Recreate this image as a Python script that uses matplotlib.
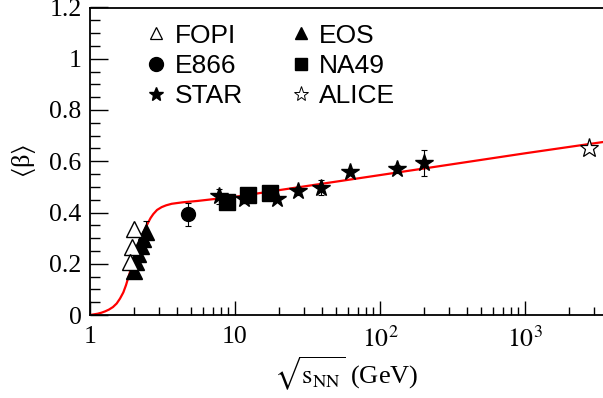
import numpy as np
import matplotlib
matplotlib.use("Agg")
import matplotlib.pyplot as plt
from matplotlib.lines import Line2D
from matplotlib.ticker import FixedLocator, LogLocator, MultipleLocator, FuncFormatter

plt.rcParams['font.family'] = ['Liberation Serif', 'DejaVu Serif']
plt.rcParams['mathtext.fontset'] = 'stix'

# blast-wave <beta> vs collision energy
fopi_x = [2.0, 1.95, 1.9]
fopi_y = [0.334, 0.266, 0.205]

eos_x = [2.01, 2.08, 2.14, 2.25, 2.32, 2.43]
eos_y = [0.172, 0.207, 0.239, 0.270, 0.297, 0.325]
eos_err = [0.02, 0.02, 0.02, 0.02, 0.02, 0.04]

e866_x = [4.74]
e866_y = [0.394]
e866_err = [0.045]

na49_x = [8.8, 12.3, 17.3]
na49_y = [0.442, 0.469, 0.478]

star_x = [7.7, 11.5, 19.6, 27.0, 39.0, 62.4, 130.0, 200.0]
star_y = [0.463, 0.452, 0.453, 0.485, 0.497, 0.560, 0.570, 0.594]
star_err = [0.03, 0.01, 0.01, 0.015, 0.028, 0.01, 0.015, 0.05]

alice_x = [2760.0]
alice_y = [0.650]

# model curve
curve_x = [1.0, 1.05, 1.13, 1.2, 1.269, 1.35, 1.44, 1.528, 1.61, 1.697, 1.77,
           1.837, 1.91, 1.989, 2.07, 2.154, 2.24, 2.331, 2.43, 2.524, 2.62,
           2.733, 2.9, 3.12, 3.35, 3.66, 4.0, 4.4, 5.5, 7.05, 10.0, 20.0,
           100.0, 1000.0, 3450.0]
curve_y = [0.0, 0.002, 0.005, 0.009, 0.014, 0.021, 0.031, 0.045, 0.064, 0.088, 0.116,
           0.146, 0.177, 0.208, 0.238, 0.267, 0.294, 0.319, 0.343, 0.362, 0.379,
           0.394, 0.410, 0.421, 0.428, 0.434, 0.437, 0.440, 0.445, 0.452, 0.461, 0.487,
           0.546, 0.631, 0.675]

fig = plt.figure(figsize=(6.03, 3.98), dpi=100)
ax = fig.add_axes([90 / 603, 83 / 398, 513 / 603, 307.5 / 398])

ax.plot(curve_x, curve_y, color='red', lw=1.6, zorder=2)

ekw = dict(ecolor='black', elinewidth=0.8, capsize=2, capthick=0.8, ls='none', zorder=3)
ax.errorbar(eos_x, eos_y, yerr=eos_err, fmt='^', ms=11, mfc='black', mec='black', **ekw)
ax.errorbar(fopi_x, fopi_y, fmt='^', ms=11, mfc='white', mec='black', mew=1.0, **ekw)
ax.errorbar(e866_x, e866_y, yerr=e866_err, fmt='o', ms=10, mfc='black', mec='black', **ekw)
ax.errorbar(star_x, star_y, yerr=star_err, fmt='*', ms=13, mfc='black', mec='black', **ekw)
ax.errorbar(na49_x, na49_y, fmt='s', ms=11, mfc='black', mec='black', **ekw)
ax.errorbar(alice_x, alice_y, fmt='*', ms=14, mfc='white', mec='black', mew=0.9, **ekw)

ax.set_xscale('log')
ax.set_xlim(1, 3450)
ax.set_ylim(0, 1.2)

ax.xaxis.set_major_locator(FixedLocator([1, 10, 100, 1000]))
ax.xaxis.set_minor_locator(LogLocator(base=10, subs=np.arange(2, 10)))


def xfmt(v, pos):
    if v < 100:
        return '%d' % v
    return r'$10^{%d}$' % round(np.log10(v))


ax.xaxis.set_major_formatter(FuncFormatter(xfmt))
ax.xaxis.set_minor_formatter(FuncFormatter(lambda v, p: ''))
ax.yaxis.set_major_locator(MultipleLocator(0.2))
ax.yaxis.set_minor_locator(MultipleLocator(0.05))
ax.yaxis.set_major_formatter(FuncFormatter(lambda v, p: '%g' % round(v, 1)))

ax.tick_params(which='both', direction='in', top=False, right=False, labelsize=18.5, width=1)
ax.tick_params(axis='x', which='major', length=10, pad=8)
ax.tick_params(axis='x', which='minor', length=6)
ax.tick_params(axis='y', which='major', length=13, pad=6)
ax.tick_params(axis='y', which='minor', length=7)
ax.spines['right'].set_visible(False)
for s in ['left', 'bottom', 'top']:
    ax.spines[s].set_linewidth(1.3)

ax.set_xlabel(r'$\sqrt{\mathrm{s}_{\mathrm{NN}}}$ (GeV)', fontsize=19, labelpad=2)
ax.set_ylabel(r'$\langle$β$\rangle$', fontsize=19, labelpad=8)

handles = [
    Line2D([], [], marker='^', ls='none', ms=9, mfc='white', mec='black', mew=0.9),
    Line2D([], [], marker='o', ls='none', ms=10, mfc='black', mec='black'),
    Line2D([], [], marker='*', ls='none', ms=10, mfc='black', mec='black'),
    Line2D([], [], marker='^', ls='none', ms=9, mfc='black', mec='black'),
    Line2D([], [], marker='s', ls='none', ms=9, mfc='black', mec='black'),
    Line2D([], [], marker='*', ls='none', ms=11, mfc='white', mec='black', mew=0.7),
]
labels = ['FOPI', 'E866', 'STAR', 'EOS', 'NA49', 'ALICE']
ax.legend(handles, labels, ncol=2, frameon=False, loc='upper left',
          bbox_to_anchor=(0.062, 1.025), prop={'family': 'Liberation Sans', 'size': 19},
          handlelength=0.8, handletextpad=0.3, columnspacing=1.8, labelspacing=0.24)

fig.savefig('out.png', dpi=100)
